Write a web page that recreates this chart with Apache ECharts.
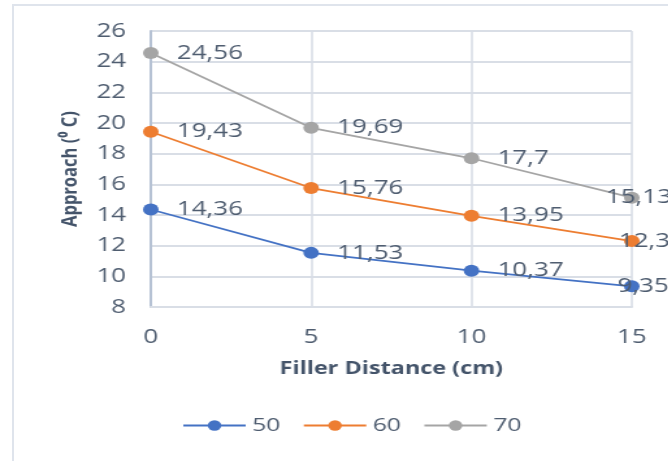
<!DOCTYPE html>
<html>
<head>
<meta charset="utf-8">
<script src="https://cdn.jsdelivr.net/npm/echarts@6/dist/echarts.min.js"></script>
<style>
  html, body { margin: 0; padding: 0; background: #fff; overflow: hidden; }
  #frame { position: absolute; left: 12px; top: 4px; width: 700px; height: 500px; border-left: 2px solid #dfe4ec; border-top: 2px solid #dfe4ec; }
  /* the chart is laid out narrow and widened horizontally */
  #chart { position: absolute; left: 0; top: 0; width: 514px; height: 461px; transform: scaleX(1.3); transform-origin: 0 0; }
</style>
</head>
<body>
<div id="frame"></div>
<div id="chart"></div>
<script>
// Filler distance (cm) on the x axis
const distances = [0, 5, 10, 15];
// Approach temperature for each series
const series50 = [14.36, 11.53, 10.37, 9.35];
const series60 = [19.43, 15.76, 13.95, 12.3];
const series70 = [24.56, 19.69, 17.7, 15.13];
const seriesNames = ['50', '60', '70'];
const seriesColors = ['#4472c4', '#ed7d31', '#a5a5a5'];
const yTicks = { min: 8, max: 26, step: 2 };

const font = 'Open Sans';
const textColor = '#4f5d70';
// the last label of each series is pulled back inside the chart edge
const lastLabelShift = [-31, -30, -40];

function makeSeries(name, values, color, shift) {
  return {
    name: name,
    type: 'line',
    data: distances.map((d, i) => {
      const item = { value: [d, values[i]] };
      if (i === distances.length - 1) item.label = { offset: [shift, 0] };
      return item;
    }),
    symbol: 'circle',
    symbolSize: 12,
    lineStyle: { color: color, width: 1.8 },
    itemStyle: { color: color },
    label: {
      show: true,
      position: 'right',
      distance: 14,
      fontFamily: font,
      fontSize: 20,
      color: textColor,
      formatter: p => String(p.value[1]).replace('.', ',')
    }
  };
}

const chart = echarts.init(document.getElementById('chart'), null, { renderer: 'canvas' });
chart.setOption({
  animation: false,
  grid: { left: 116, right: 28, top: 31, bottom: 154 },
  legend: {
    top: 411,
    left: 135,
    itemWidth: 48,
    itemHeight: 13,
    itemGap: 17,
    textStyle: { fontFamily: font, fontSize: 19, color: textColor },
    data: seriesNames
  },
  xAxis: {
    type: 'value',
    min: 0, max: 15, interval: 5,
    name: 'Filler Distance (cm)',
    nameLocation: 'middle',
    nameGap: 53,
    nameTextStyle: { fontFamily: font, fontSize: 18, fontWeight: 'bold', color: '#44546a' },
    axisLine: { show: true, lineStyle: { color: '#d9dee6', width: 2 } },
    axisTick: { show: false },
    splitLine: { show: true, lineStyle: { color: '#d9dee6', width: 1.6 } },
    axisLabel: { fontFamily: font, fontSize: 20, color: textColor, margin: 20 }
  },
  yAxis: {
    type: 'value',
    min: yTicks.min, max: yTicks.max, interval: yTicks.step,
    name: 'Approach (⁰ C)',
    nameLocation: 'middle',
    nameGap: 51,
    nameTextStyle: { fontFamily: font, fontSize: 16.5, fontWeight: 'bold', color: '#44546a' },
    axisLine: { show: true, lineStyle: { color: '#b6c2d4', width: 2 } },
    axisTick: { show: false },
    splitLine: { show: true, lineStyle: { color: '#d9dee6', width: 2 } },
    axisLabel: { fontFamily: font, fontSize: 20, color: textColor, margin: 19 }
  },
  series: [
    makeSeries(seriesNames[0], series50, seriesColors[0], lastLabelShift[0]),
    makeSeries(seriesNames[1], series60, seriesColors[1], lastLabelShift[1]),
    makeSeries(seriesNames[2], series70, seriesColors[2], lastLabelShift[2])
  ]
});
</script>
</body>
</html>
